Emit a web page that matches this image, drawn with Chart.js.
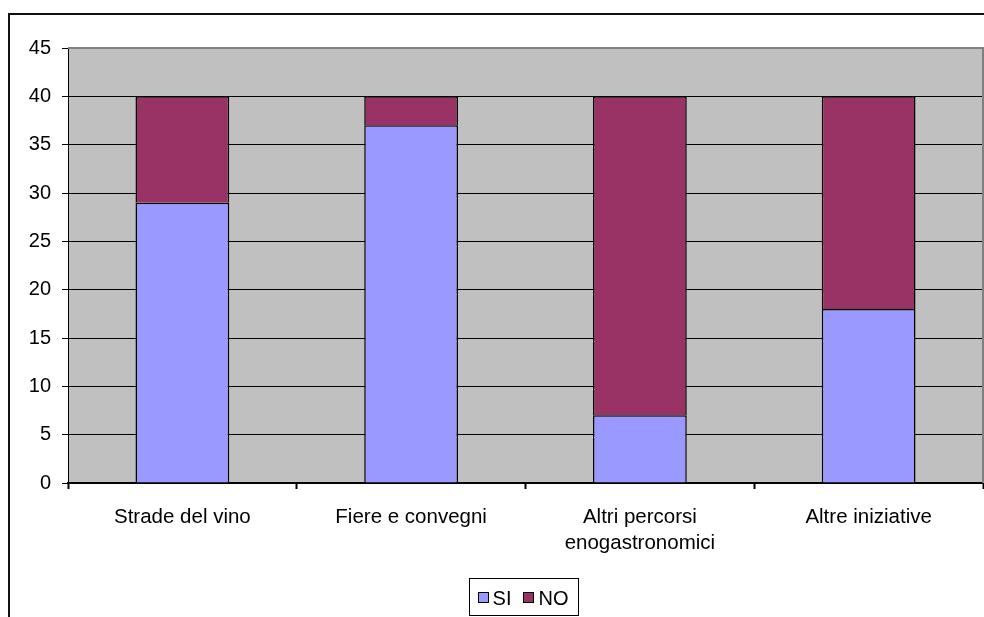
<!DOCTYPE html>
<html>
<head>
<meta charset="utf-8">
<script src="https://cdn.jsdelivr.net/npm/chart.js@4/dist/chart.umd.min.js"></script>
<style>
  html, body { margin: 0; padding: 0; background: #fff; }
  #wrap { width: 984px; height: 617px; }
</style>
</head>
<body>
<div id="wrap"><canvas id="c" width="984" height="617"></canvas></div>
<script>
// Categories and series values
const categories = ['Strade del vino', 'Fiere e convegni', ['Altri percorsi', 'enogastronomici'], 'Altre iniziative'];
const siValues = [29, 37, 7, 18];
const noValues = [11, 3, 33, 22];
const seriesNames = ['SI', 'NO'];

const FONT = 'Liberation Sans, Arial, sans-serif';

// Grey plot background, grey top/right border, the outer frame and a boxed legend
const framePlugin = {
  id: 'frame',
  beforeDraw(chart) {
    const { ctx, chartArea: a } = chart;
    ctx.save();
    ctx.fillStyle = '#fff';
    ctx.fillRect(0, 0, chart.width, chart.height);
    ctx.fillStyle = '#C0C0C0';
    ctx.fillRect(a.left, a.top, a.right - a.left, a.bottom - a.top);
    ctx.restore();
  },
  afterDraw(chart) {
    const { ctx, chartArea: a } = chart;
    ctx.save();
    ctx.strokeStyle = '#808080';
    ctx.lineWidth = 2;
    ctx.beginPath();
    ctx.moveTo(a.left, a.top);
    ctx.lineTo(a.right, a.top);
    ctx.lineTo(a.right, a.bottom);
    ctx.stroke();

    // outer chart frame
    ctx.fillStyle = '#111';
    ctx.fillRect(8, 13, chart.width - 8, 2);
    ctx.fillRect(8, 13, 2, chart.height - 13);

    // legend: one small square and label per dataset, inside a thin box
    const sq = 11, gap = 4, itemGap = 12, pad = 9;
    ctx.font = '20px ' + FONT;
    ctx.textBaseline = 'alphabetic';
    ctx.textAlign = 'left';
    const items = chart.data.datasets.map(ds => ({ ds, w: ctx.measureText(ds.label).width }));
    let total = 0;
    items.forEach((it, i) => { total += sq + gap + it.w + (i ? itemGap : 0); });
    const cx = 523;
    const boxL = Math.round(cx - total / 2 - pad);
    const boxW = Math.round(total + 2 * pad);
    ctx.strokeStyle = '#000';
    ctx.lineWidth = 1;
    ctx.strokeRect(boxL + 0.5, 578.5, boxW, 37);
    let x = cx - total / 2;
    items.forEach((it, i) => {
      if (i) x += itemGap;
      const sx = Math.round(x);
      ctx.fillStyle = it.ds.backgroundColor;
      ctx.fillRect(sx, 592, sq, sq);
      ctx.strokeStyle = '#000';
      ctx.strokeRect(sx + 0.5, 592.5, sq - 1, sq - 1);
      x += sq + gap;
      ctx.fillStyle = '#000';
      ctx.fillText(it.ds.label, x, 605);
      x += it.w;
    });
    ctx.restore();
  }
};

new Chart(document.getElementById('c'), {
  type: 'bar',
  data: {
    labels: categories,
    datasets: [
      { label: seriesNames[0], data: siValues, backgroundColor: '#9999FF', borderColor: '#000', borderWidth: 1.5 },
      { label: seriesNames[1], data: noValues, backgroundColor: '#993366', borderColor: '#000', borderWidth: 1.5 }
    ]
  },
  options: {
    responsive: false,
    animation: false,
    devicePixelRatio: 1,
    layout: { padding: { top: 48, right: 1, left: 0, bottom: 0 } },
    datasets: { bar: { categoryPercentage: 1, barPercentage: 0.41 } },
    plugins: {
      legend: { display: false },
      tooltip: { enabled: false },
      title: { display: false }
    },
    scales: {
      x: {
        stacked: true,
        afterFit(scale) { scale.height = 134; },
        grid: { display: true, offset: true, drawOnChartArea: false, drawTicks: true, tickLength: 6, tickColor: '#000', tickWidth: 2 },
        border: { display: true, color: '#000', width: 2 },
        ticks: { font: { family: FONT, size: 20.5, lineHeight: 1.27 }, color: '#000', padding: 15, maxRotation: 0, autoSkip: false }
      },
      y: {
        stacked: true,
        min: 0,
        max: 45,
        afterFit(scale) { scale.width = 68; },
        grid: {
          color: (c) => (c.tick && c.tick.value === 45 ? '#808080' : '#000'),
          lineWidth: 1,
          tickLength: 6,
          tickColor: '#000',
          tickWidth: 1
        },
        border: { display: true, color: '#000', width: 1 },
        ticks: { stepSize: 5, font: { family: FONT, size: 20 }, color: '#000', padding: 11 }
      }
    }
  },
  plugins: [framePlugin]
});
</script>
</body>
</html>
